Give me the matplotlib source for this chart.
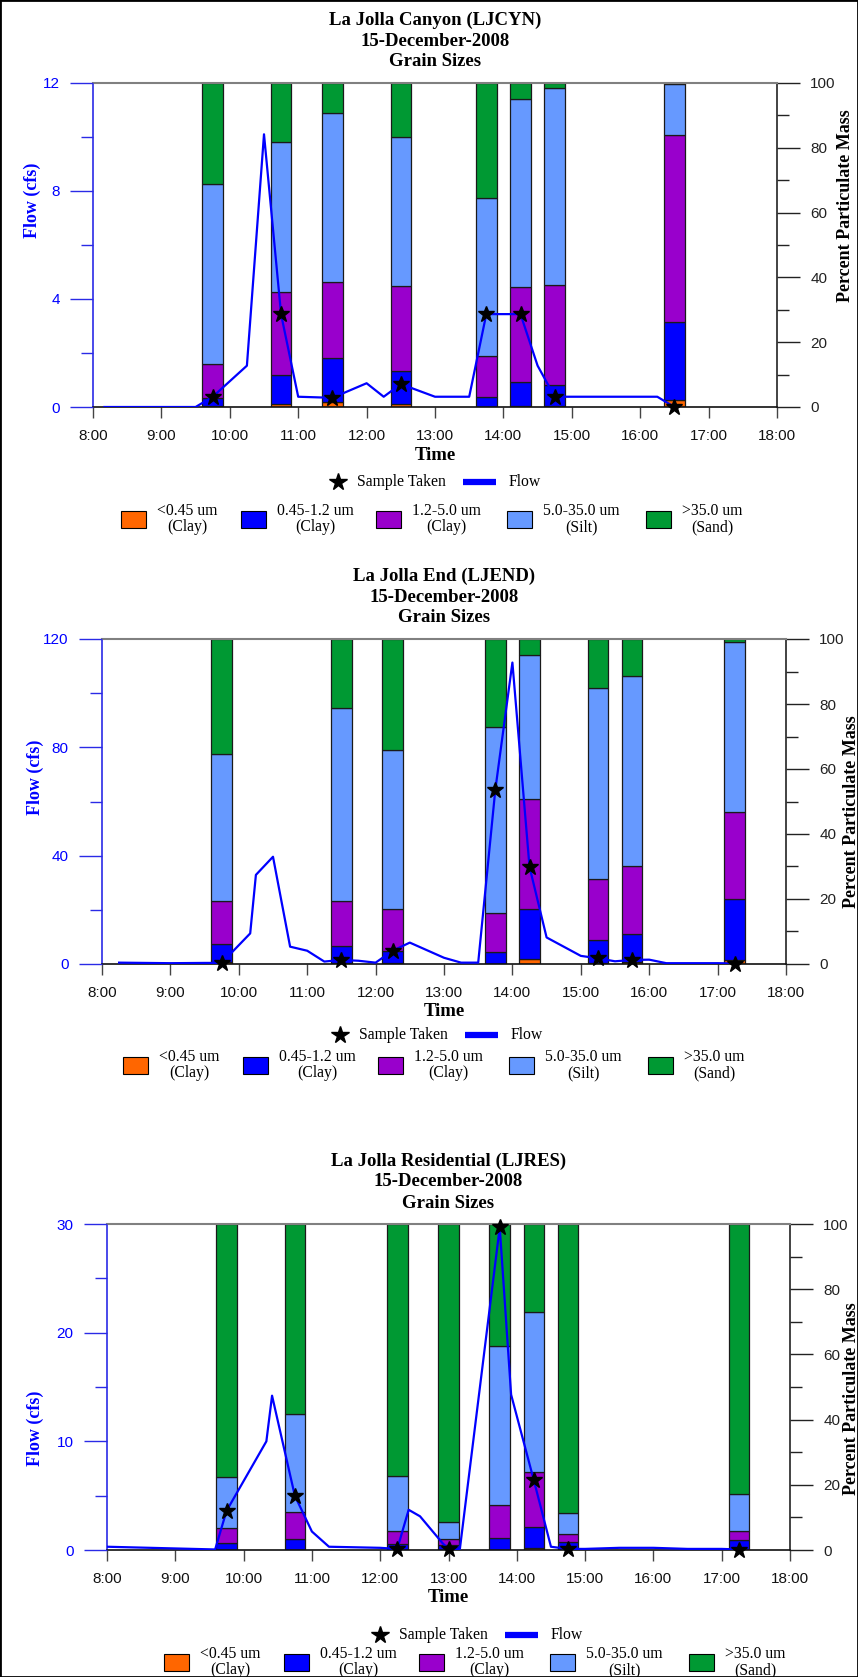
import matplotlib
matplotlib.use("Agg")
import matplotlib.pyplot as plt
from matplotlib.patches import Rectangle
from matplotlib.lines import Line2D
import numpy as np

plt.rcParams['font.family'] = ['Liberation Sans', 'DejaVu Sans']
SERIF = ['Liberation Serif', 'DejaVu Serif']

# ------------------------------------------------------------------ data
hour_ticks = [8, 9, 10, 11, 12, 13, 14, 15, 16, 17, 18]
hour_labels = ["8:00", "9:00", "10:00", "11:00", "12:00", "13:00", "14:00",
               "15:00", "16:00", "17:00", "18:00"]
size_classes = ["<0.45 um\n(Clay)", "0.45-1.2 um\n(Clay)", "1.2-5.0 um\n(Clay)",
                "5.0-35.0 um\n(Silt)", ">35.0 um\n(Sand)"]
class_colors = ["#FF6600", "#0000FF", "#9900CC", "#6699FF", "#009933"]

# --- La Jolla Canyon (LJCYN)
ljcyn_title = ["La Jolla Canyon (LJCYN)", "15-December-2008", "Grain Sizes"]
ljcyn_bar_times = ["9:45", "10:45", "11:30", "12:30", "13:45", "14:15", "14:45", "16:30"]
ljcyn_lt045 = [0.2, 0.8, 1.4, 0.8, 0.1, 0.4, 0.3, 2.2]
ljcyn_045_12 = [2.7, 9.0, 13.6, 10.2, 2.9, 7.3, 6.5, 23.9]
ljcyn_12_50 = [10.4, 25.6, 23.5, 26.4, 12.7, 29.2, 30.9, 57.8]
ljcyn_50_350 = [55.5, 46.3, 52.1, 45.8, 48.8, 58.2, 60.7, 15.8]
ljcyn_gt350 = [31.2, 18.3, 9.4, 16.8, 35.5, 4.9, 1.6, 0.3]
ljcyn_flow_times = ["8:10", "9:30", "9:45", "10:15", "10:30", "10:45", "11:00", "11:30",
                    "12:00", "12:15", "12:30", "13:00", "13:30", "13:45", "14:15",
                    "14:30", "14:45", "16:15", "16:30"]
ljcyn_flow = [0, 0, 0.38, 1.53, 10.1, 3.43, 0.38, 0.34, 0.88, 0.38, 0.85, 0.38,
              0.38, 3.44, 3.44, 1.53, 0.38, 0.38, 0]
ljcyn_sample_flow = [0.38, 3.43, 0.34, 0.85, 3.44, 3.44, 0.38, 0]

# --- La Jolla End (LJEND)
ljend_title = ["La Jolla End (LJEND)", "15-December-2008", "Grain Sizes"]
ljend_bar_times = ["9:45", "11:30", "12:15", "13:45", "14:15", "15:15", "15:45", "17:15"]
ljend_lt045 = [0.5, 0.3, 0.2, 0.1, 1.4, 0.4, 0.5, 1.2]
ljend_045_12 = [5.6, 5.3, 3.9, 3.5, 15.4, 7.1, 8.8, 18.8]
ljend_12_50 = [13.4, 13.9, 12.7, 12.2, 34.1, 18.6, 20.8, 26.7]
ljend_50_350 = [45.1, 59.3, 49.1, 57.0, 44.3, 58.7, 58.5, 52.5]
ljend_gt350 = [35.4, 21.2, 34.1, 27.2, 4.8, 15.2, 11.4, 0.8]
ljend_flow_times = ["8:15", "9:00", "9:30", "9:45", "10:10", "10:15", "10:30", "10:45",
                    "11:00", "11:15", "11:30", "11:45", "12:00", "12:15", "12:30",
                    "13:00", "13:15", "13:30", "13:45", "14:00", "14:15", "14:30",
                    "15:00", "15:15", "15:30", "15:45", "16:00", "16:15", "17:00", "17:15"]
ljend_flow = [0.5, 0.3, 0.4, 0.4, 11.3, 32.9, 39.6, 6.4, 4.9, 0.9, 1.5, 1.2, 0.5,
              4.9, 7.9, 2.3, 0.5, 0.5, 64.3, 111.3, 35.9, 9.8, 3.0, 2.1, 1.0, 1.5,
              1.6, 0.3, 0.3, 0.2]
ljend_sample_flow = [0.5, 1.5, 4.9, 64.3, 35.9, 2.1, 1.5, 0]

# --- La Jolla Residential (LJRES)
ljres_title = ["La Jolla Residential (LJRES)", "15-December-2008", "Grain Sizes"]
ljres_bar_times = ["9:45", "10:45", "12:15", "13:00", "13:45", "14:15", "14:45", "17:15"]
ljres_lt045 = [0.1, 0.1, 0.1, 0.1, 0.1, 0.5, 0.1, 0.1]
ljres_045_12 = [2.1, 3.2, 1.7, 1.4, 3.5, 6.6, 2.3, 2.9]
ljres_12_50 = [4.5, 8.4, 4.0, 1.9, 10.1, 16.7, 2.5, 2.9]
ljres_50_350 = [15.6, 29.9, 17.0, 5.1, 48.8, 49.2, 6.4, 11.3]
ljres_gt350 = [77.7, 58.4, 77.2, 91.5, 37.5, 27.0, 88.7, 82.8]
ljres_flow_times = ["8:00", "9:35", "9:45", "10:20", "10:25", "10:45", "11:00", "11:15",
                    "12:00", "12:15", "12:25", "12:35", "12:55", "13:00", "13:10",
                    "13:45", "13:55", "14:15", "14:30", "14:45", "15:00", "15:30",
                    "16:00", "16:30", "17:00", "17:15"]
ljres_flow = [0.3, 0.05, 3.6, 10.0, 14.2, 5.0, 1.7, 0.3, 0.2, 0.1, 3.7, 3.1, 0.6,
              0.1, 0.1, 29.7, 14.3, 6.4, 0.3, 0.1, 0.1, 0.2, 0.2, 0.1, 0.1, 0.05]
ljres_sample_flow = [3.6, 5.0, 0.1, 0.05, 29.7, 6.4, 0.1, 0]

# ------------------------------------------------------------------ layout
W, H, DPI = 858, 1677, 100


def hrs(t):
    h, m = t.split(":")
    return int(h) + int(m) / 60.0


def fx(px):
    return px / W


def fy(py):
    return 1 - py / H


panels = [
    dict(title=ljcyn_title, bar_times=ljcyn_bar_times,
         fractions=[ljcyn_lt045, ljcyn_045_12, ljcyn_12_50, ljcyn_50_350, ljcyn_gt350],
         flow_times=ljcyn_flow_times, flow=ljcyn_flow, sample_flow=ljcyn_sample_flow,
         fmax=12, fmajor=[0, 4, 8, 12], fminor=[2, 6, 10],
         box=(93, 777, 83, 407), flow_lab=(32, 200), pct_lab=(845, 206),
         leg1=(338, 75), leg2=([121, 241, 376, 507, 646], 112)),
    dict(title=ljend_title, bar_times=ljend_bar_times,
         fractions=[ljend_lt045, ljend_045_12, ljend_12_50, ljend_50_350, ljend_gt350],
         flow_times=ljend_flow_times, flow=ljend_flow, sample_flow=ljend_sample_flow,
         fmax=120, fmajor=[0, 40, 80, 120], fminor=[20, 60, 100],
         box=(102, 786, 639, 964), flow_lab=(35, 777), pct_lab=(851, 812),
         leg1=(340, 71), leg2=([123, 243, 378, 509, 648], 101)),
    dict(title=ljres_title, bar_times=ljres_bar_times,
         fractions=[ljres_lt045, ljres_045_12, ljres_12_50, ljres_50_350, ljres_gt350],
         flow_times=ljres_flow_times, flow=ljres_flow, sample_flow=ljres_sample_flow,
         fmax=30, fmajor=[0, 10, 20, 30], fminor=[5, 15, 25],
         box=(107, 790, 1224, 1550), flow_lab=(35, 1428), pct_lab=(851, 1399),
         leg1=(380, 85), leg2=([164, 284, 419, 550, 689], 112)),
]

fig = plt.figure(figsize=(W / DPI, H / DPI), dpi=DPI)

FLOW_BLUE = "#0000FF"
SPINE_BLUE = "#2a2ae6"

for p in panels:
    L, R, T, B = p["box"]
    ax = fig.add_axes([fx(L), fy(B), (R - L) / W, (B - T) / H])
    ax2 = ax.twinx()

    # percent bars on the base axes (drawn underneath the flow axes)
    ax.set_xlim(8, 18)
    ax.set_ylim(0, 100)
    xs = [hrs(t) for t in p["bar_times"]]
    bottom = np.zeros(len(xs))
    for vals, col in zip(p["fractions"], class_colors):
        ax.bar(xs, vals, width=0.3, bottom=bottom, color=col,
               edgecolor="#1a1a1a", linewidth=0.9, zorder=2)
        bottom = bottom + np.array(vals)

    ax.set_yticks(range(0, 101, 20))
    ax.set_yticks(range(10, 100, 20), minor=True)
    ax.yaxis.set_ticks_position("right")
    ax.yaxis.set_label_position("right")
    ax.tick_params(axis="y", which="both", left=False, labelleft=False,
                   right=True, labelright=True)
    ax.tick_params(axis="y", which="major", direction="out", length=16.5, width=1.0,
                   labelsize=11, pad=7.5, color="#222222", labelcolor="#222222")
    ax.tick_params(axis="y", which="minor", direction="out", length=8.5, width=1.0,
                   color="#222222")
    ax.set_xticks(hour_ticks)
    ax.set_xticklabels(hour_labels)
    ax.tick_params(axis="x", direction="out", length=8, width=1.0, labelsize=11,
                   pad=7.5, color="#444444", labelcolor="#111111")

    ax.spines["left"].set_color(SPINE_BLUE)
    ax.spines["left"].set_linewidth(1.2)
    ax.spines["top"].set_color("#808080")
    ax.spines["top"].set_linewidth(1.5)
    ax.spines["right"].set_color("#222222")
    ax.spines["right"].set_linewidth(1.2)
    ax.spines["bottom"].set_color("#111111")
    ax.spines["bottom"].set_linewidth(1.2)

    # flow on the twin axes, ticks moved to the left
    ax2.set_ylim(0, p["fmax"])
    ax2.set_yticks(p["fmajor"])
    ax2.set_yticks(p["fminor"], minor=True)
    ax2.yaxis.set_ticks_position("left")
    ax2.tick_params(axis="y", which="both", left=True, labelleft=True,
                    right=False, labelright=False)
    ax2.tick_params(axis="y", which="major", direction="out", length=16.5, width=1.0,
                    labelsize=11, pad=7.5, color=SPINE_BLUE, labelcolor=FLOW_BLUE)
    ax2.tick_params(axis="y", which="minor", direction="out", length=8.5, width=1.0,
                    color=SPINE_BLUE)
    for s in ax2.spines.values():
        s.set_visible(False)
    ax2.plot([hrs(t) for t in p["flow_times"]], p["flow"], color=FLOW_BLUE,
             lw=1.6, zorder=3)
    ax2.plot(xs, p["sample_flow"], ls="none", marker="*", ms=12, color="black",
             clip_on=False, zorder=4)

    cx = (L + R) / 2
    for line, dy in zip(p["title"], [63, 42, 21]):
        fig.text(fx(cx), fy(T - dy), line, ha="center", va="center", fontsize=13.5,
                 fontweight="bold", family=SERIF)
    fig.text(fx(cx), fy(B + 48), "Time", ha="center", va="center", fontsize=13.5,
             fontweight="bold", family=SERIF)
    fig.text(fx(p["flow_lab"][0]), fy(p["flow_lab"][1]), "Flow (cfs)", rotation=90,
             ha="center", va="center", fontsize=13, fontweight="bold", family=SERIF,
             color=FLOW_BLUE)
    fig.text(fx(p["pct_lab"][0]), fy(p["pct_lab"][1]), "Percent Particulate Mass",
             rotation=90, ha="center", va="center", fontsize=13, fontweight="bold",
             family=SERIF, color="black")

    # legend row 1
    sx, sdy = p["leg1"]
    ly = B + sdy
    fig.add_artist(Line2D([fx(sx)], [fy(ly)], marker="*", ms=13, color="black",
                          ls="none", transform=fig.transFigure))
    fig.text(fx(sx + 19), fy(ly), "Sample Taken", ha="left", va="center",
             fontsize=11.3, family=SERIF)
    fig.add_artist(Line2D([fx(sx + 125), fx(sx + 158)], [fy(ly), fy(ly)], lw=4.5,
                          color=FLOW_BLUE, solid_capstyle="butt",
                          transform=fig.transFigure))
    fig.text(fx(sx + 171), fy(ly), "Flow", ha="left", va="center",
             fontsize=11.3, family=SERIF)

    # legend row 2
    lefts, l2dy = p["leg2"]
    cy = B + l2dy
    for lx, lab, col in zip(lefts, size_classes, class_colors):
        fig.add_artist(Rectangle((fx(lx), fy(cy + 8.5)), 25 / W, 17 / H,
                                 facecolor=col, edgecolor="black", lw=0.8,
                                 transform=fig.transFigure))
        fig.text(fx(lx + 36), fy(cy), lab, ha="left", va="center",
                 multialignment="center", fontsize=11.3, family=SERIF,
                 linespacing=1.0)

fig.add_artist(Rectangle((0, 0), 1, 1, fill=False, edgecolor="black", lw=2,
                         transform=fig.transFigure))

fig.savefig("out.png", dpi=DPI)
